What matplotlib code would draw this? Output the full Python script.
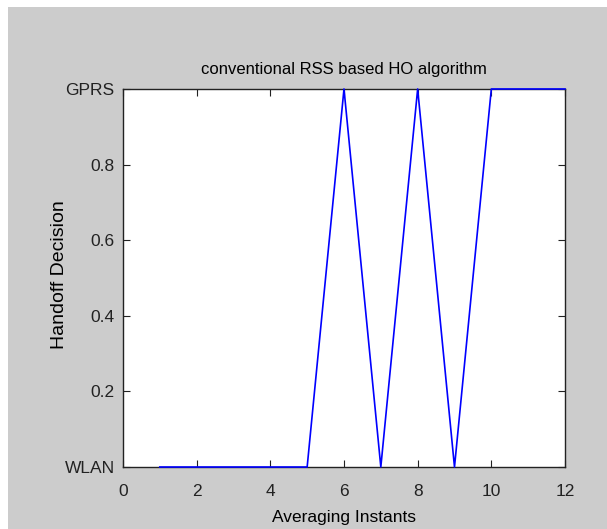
import numpy as np
import matplotlib.pyplot as plt
from matplotlib.patches import Rectangle

# averaging instants and the handoff decision (0 = WLAN, 1 = GPRS)
instants = [1, 2, 3, 4, 5, 6, 7, 8, 9, 10, 11, 12]
decision = [0, 0, 0, 0, 0, 1, 0, 1, 0, 1, 1, 1]
xticks = [0, 2, 4, 6, 8, 10, 12]
yticks = [0, 0.2, 0.4, 0.6, 0.8, 1]
yticklabels = ['WLAN', '0.2', '0.4', '0.6', '0.8', 'GPRS']

plt.rcParams['font.family'] = ['Liberation Sans Narrow', 'Liberation Sans', 'DejaVu Sans']

fig = plt.figure(figsize=(6.07, 5.29), dpi=100, facecolor='#cccccc')
# white strips along the top and left edge of the screenshot
fig.patches.append(Rectangle((0, 0), 8 / 607, 1, transform=fig.transFigure,
                             facecolor='white', edgecolor='none', zorder=-1))
fig.patches.append(Rectangle((0, 1 - 7 / 529), 1, 7 / 529, transform=fig.transFigure,
                             facecolor='white', edgecolor='none', zorder=-1))

ax = fig.add_axes([0.2026, 0.1172, 0.7282, 0.7146])
ax.plot(instants, decision, color='#0000ff', linewidth=1.2, clip_on=False, zorder=3)

ax.set_xlim(0, 12)
ax.set_ylim(0, 1)
ax.set_xticks(xticks)
ax.set_yticks(yticks)
ax.set_yticklabels(yticklabels)
ax.tick_params(direction='in', length=5, width=0.8, top=True, right=True,
               labelsize=12.5, colors='#222222', pad=6)
ax.tick_params(axis='x', pad=12)
for s in ax.spines.values():
    s.set_linewidth(1.0)
    s.set_color('#222222')

ax.set_title('conventional RSS based HO algorithm', fontsize=12, pad=11)
ax.set_xlabel('Averaging Instants', fontsize=12.5, labelpad=8)
ax.set_ylabel('Handoff Decision', fontsize=14)
ax.yaxis.set_label_coords(-0.125, 0.51)

fig.savefig('out.png', dpi=100, facecolor=fig.get_facecolor())
